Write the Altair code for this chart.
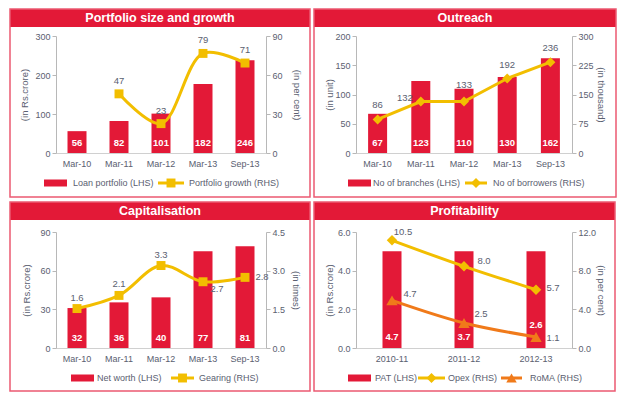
import altair as alt
import pandas as pd

# ---------------- data ----------------
months = ["Mar-10", "Mar-11", "Mar-12", "Mar-13", "Sep-13"]
loan_portfolio = [56, 82, 101, 177, 238]
loan_labels = ["56", "82", "101", "182", "246"]
growth_months = ["Mar-11", "Mar-12", "Mar-13", "Sep-13"]
portfolio_growth = [45.5, 22.6, 76.6, 69.2]
growth_labels = ["47", "23", "79", "71"]

branches = [67, 123, 110, 130, 162]
branch_labels = ["67", "123", "110", "130", "162"]
borrowers = [86, 132, 132, 191, 233]
borrower_labels = ["86", "132", "133", "192", "236"]

net_worth = [31, 35.4, 39.3, 75, 79]
net_worth_labels = ["32", "36", "40", "77", "81"]
gearing = [1.53, 2.04, 3.2, 2.57, 2.74]
gearing_labels = ["1.6", "2.1", "3.3", "2.7", "2.8"]

years = ["2010-11", "2011-12", "2012-13"]
pat = [5.0, 5.0, 5.0]
pat_labels = ["4.7", "3.7", "2.6"]
opex = [11.14, 8.45, 6.03]
opex_labels = ["10.5", "8.0", "5.7"]
roma = [4.93, 2.59, 1.14]
roma_labels = ["4.7", "2.5", "1.1"]

# ---------------- style ----------------
RED = "#E31937"
YELLOW = "#F2BE00"
ORANGE = "#F07A1A"
BORDER = "#EC5A72"
TXT = "#5A6070"
AXIS = "#B8B8B8"
FONT = "Liberation Sans"


def one():
    return alt.Chart(pd.DataFrame({"k": [0]}))


def rect(x1, x2, y1, y2, **mark):
    return one().mark_rect(**mark).encode(
        x=alt.value(x1), x2=alt.value(x2), y=alt.value(y1), y2=alt.value(y2))


def label(x, y, text, **kw):
    opts = dict(align="left", baseline="middle", font=FONT, fontSize=9, color=TXT)
    opts.update(kw)
    return one().mark_text(text=text, **opts).encode(x=alt.value(x), y=alt.value(y))


def frame(left, right, top, bottom, hdr_bottom, title):
    return [
        rect(left, right, top, hdr_bottom, color=RED),
        rect(left, right, top, bottom, filled=False, color=BORDER, strokeWidth=1.5),
        label((left + right) / 2, (top + hdr_bottom) / 2, title, align="center",
              fontSize=12.5, fontWeight="bold", color="white"),
    ]


def legend_bar(x1, y, text, tx):
    return [rect(x1, x1 + 23, y - 3.5, y + 3.5, color=RED), label(tx, y, text)]


def legend_line(x1, x2, y, color, shape, size, text, tx):
    return [
        one().mark_rule(color=color, strokeWidth=3).encode(
            x=alt.value(x1), x2=alt.value(x2), y=alt.value(y)),
        one().mark_point(shape=shape, filled=True, opacity=1, color=color, size=size).encode(
            x=alt.value((x1 + x2) / 2), y=alt.value(y)),
        label(tx, y, text),
    ]


def xenc(cats):
    return alt.X("cat:N", sort=cats,
                 scale=alt.Scale(domain=cats, paddingInner=0, paddingOuter=0),
                 axis=alt.Axis(title=None, labelAngle=0, ticks=False, labelPadding=6,
                               domainColor="#D0D0D0"))


def yaxis(orient, values, title, tx, H, fmt=None):
    kw = dict(orient=orient, values=values, title=title, titleX=tx, titleY=H / 2,
              titleAngle=270 if orient == "left" else 90, titleAlign="center",
              titleBaseline="middle", labelOverlap=False)
    if fmt:
        kw["format"] = fmt
    return alt.Axis(**kw)


def bar_group(cats, vals, labels, domain, axis, up_cats=None):
    df = pd.DataFrame({"cat": cats, "v": vals, "lab": labels, "z": [0] * len(cats)})
    base = alt.Chart(df)
    sc = alt.Scale(domain=domain, nice=False)
    y = alt.Y("v:Q", scale=sc, axis=axis)
    yz = alt.Y("z:Q", scale=sc, axis=axis)
    bars = base.mark_bar(size=19, color=RED).encode(x=xenc(cats), y=y)
    txt = dict(color="white", fontWeight="bold", font=FONT, fontSize=9.5, baseline="middle")
    layers = [bars]
    if up_cats:
        low = base.transform_filter(
            ~alt.FieldOneOfPredicate(field="cat", oneOf=up_cats))
        high = base.transform_filter(alt.FieldOneOfPredicate(field="cat", oneOf=up_cats))
        layers.append(low.mark_text(dy=-11, **txt).encode(x=xenc(cats), y=yz, text="lab:N"))
        layers.append(high.mark_text(dy=-23, **txt).encode(x=xenc(cats), y=yz, text="lab:N"))
    else:
        layers.append(base.mark_text(dy=-10, **txt).encode(x=xenc(cats), y=yz, text="lab:N"))
    return alt.layer(*layers)


def line_layers(cats, allcats, vals, labels, domain, axis, color, shape, size, interp,
                placements):
    df = pd.DataFrame({"cat": cats, "v": vals, "lab": labels})
    base = alt.Chart(df)
    y = alt.Y("v:Q", scale=alt.Scale(domain=domain, nice=False), axis=axis)
    layers = [
        base.mark_line(color=color, strokeWidth=3, interpolate=interp).encode(
            x=xenc(allcats), y=y),
        base.mark_point(shape=shape, filled=True, opacity=1, color=color, size=size).encode(
            x=xenc(allcats), y=y),
    ]
    for group, dx, dy in placements:
        src = base.transform_filter(alt.FieldOneOfPredicate(field="cat", oneOf=group))
        layers.append(src.mark_text(dx=dx, dy=dy, font=FONT, fontSize=9.5, color=TXT,
                                    baseline="middle").encode(
            x=xenc(allcats), y=y, text="lab:N"))
    return layers


# ---------------- panel 1 ----------------
W1, H1 = 210, 117
p1 = alt.layer(
    *frame(-46, 254, -27, 161, -9, "Portfolio size and growth"),
    bar_group(months, loan_portfolio, loan_labels, [0, 300],
              yaxis("left", [0, 100, 200, 300], "(in Rs.crore)", -32, H1)),
    alt.layer(*line_layers(growth_months, months, portfolio_growth, growth_labels, [0, 90],
                           yaxis("right", [0, 30, 60, 90], "(in per cent)", 30, H1),
                           YELLOW, "square", 80, "catmull-rom",
                           [(growth_months, 0, -13)])),
    *legend_bar(-12, 147, "Loan portfolio (LHS)", 17),
    *legend_line(102, 128, 147, YELLOW, "square", 80, "Portfolio growth (RHS)", 133),
).resolve_scale(y="independent").properties(width=W1, height=H1)

# ---------------- panel 2 ----------------
W2, H2 = 216, 117
p2 = alt.layer(
    *frame(-42, 260, -27, 161, -9, "Outreach"),
    bar_group(months, branches, branch_labels, [0, 200],
              yaxis("left", [0, 50, 100, 150, 200], "(in unit)", -27, H2)),
    alt.layer(*line_layers(months, months, borrowers, borrower_labels, [0, 300],
                           yaxis("right", [0, 75, 150, 225, 300], "(in thousand)", 28, H2),
                           YELLOW, "diamond", 100, "linear",
                           [(["Mar-10", "Mar-13", "Sep-13"], 0, -14),
                            (["Mar-12"], 0, -17),
                            (["Mar-11"], -16, -4)])),
    *legend_bar(-8, 147, "No of branches (LHS)", 17),
    *legend_line(109, 131, 147, YELLOW, "diamond", 100, "No of borrowers (RHS)", 137),
).resolve_scale(y="independent").properties(width=W2, height=H2)

# ---------------- panel 3 ----------------
W3, H3 = 210, 116
p3 = alt.layer(
    *frame(-46, 254, -30, 159, -12, "Capitalisation"),
    bar_group(months, net_worth, net_worth_labels, [0, 90],
              yaxis("left", [0, 30, 60, 90], "(in Rs.crore)", -30, H3)),
    alt.layer(*line_layers(months, months, gearing, gearing_labels, [0, 4.5],
                           yaxis("right", [0, 1.5, 3.0, 4.5], "(in times)", 29, H3, ".1f"),
                           YELLOW, "square", 80, "catmull-rom",
                           [(["Mar-10", "Mar-11", "Mar-12"], 0, -11),
                            (["Mar-13"], 14, 7),
                            (["Sep-13"], 17, 0)])),
    *legend_bar(15, 146, "Net worth (LHS)", 41),
    *legend_line(115, 138, 146, YELLOW, "square", 80, "Gearing (RHS)", 143),
).resolve_scale(y="independent").properties(width=W3, height=H3)

# ---------------- panel 4 ----------------
W4, H4 = 216, 116
ax4r = yaxis("right", [0, 4, 8, 12], "(in per cent)", 28, H4, ".1f")
p4 = alt.layer(
    *frame(-42, 259, -30, 159, -12, "Profitability"),
    bar_group(years, pat, pat_labels, [0, 6],
              yaxis("left", [0, 2, 4, 6], "(in Rs.crore)", -27, H4, ".1f"),
              up_cats=["2012-13"]),
    alt.layer(
        *line_layers(years, years, opex, opex_labels, [0, 12], ax4r,
                     YELLOW, "diamond", 110, "catmull-rom",
                     [(["2010-11"], 11, -8), (["2011-12"], 20, -5), (["2012-13"], 17, -2)]),
        *line_layers(years, years, roma, roma_labels, [0, 12], ax4r,
                     ORANGE, "triangle-up", 130, "catmull-rom",
                     [(["2010-11"], 18, -6), (["2011-12"], 17, -9), (["2012-13"], 17, 1)]),
    ),
    *legend_bar(-8, 146, "PAT (LHS)", 19),
    *legend_line(62, 89, 146, YELLOW, "diamond", 100, "Opex (RHS)", 92),
    *legend_line(145, 166, 146, ORANGE, "triangle-up", 110, "RoMA (RHS)", 174),
).resolve_scale(y="independent").properties(width=W4, height=H4)

chart = alt.ConcatChart(
    concat=[p1, p2, p3, p4], columns=2,
    spacing={"row": 79, "column": 90}, bounds="flush", align="each",
).properties(
    padding={"left": 1, "top": 0, "right": 0, "bottom": 0},
    background="white",
).configure_view(stroke=None).configure_axis(
    labelFont=FONT, labelFontSize=9, labelColor=TXT,
    titleFont=FONT, titleFontSize=9.5, titleFontWeight="normal", titleColor=TXT,
    domainColor=AXIS, tickColor=AXIS, tickSize=4, labelPadding=2, grid=False,
)

chart.save("out.html", embed_options={"renderer": "svg", "actions": False})
